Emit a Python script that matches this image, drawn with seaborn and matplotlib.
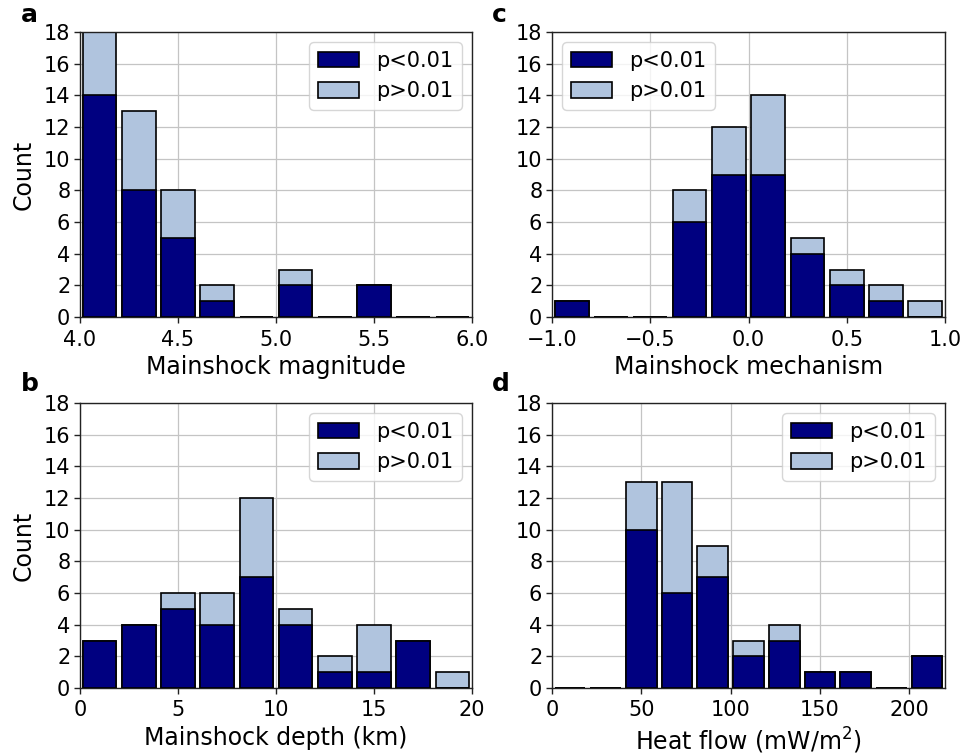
import numpy as np
import pandas as pd
import matplotlib
matplotlib.use("Agg")
import matplotlib.pyplot as plt
import seaborn as sns
from matplotlib.patches import Patch

# ---- data (counts per bin) ----
mag_edges = [4.0, 4.2, 4.4, 4.6, 4.8, 5.0, 5.2, 5.4, 5.6, 5.8, 6.0]
mag_sig = [14, 8, 5, 1, 0, 2, 0, 2, 0, 0]
mag_total = [18, 13, 8, 2, 0, 3, 0, 2, 0, 0]

mech_edges = [-1.0, -0.8, -0.6, -0.4, -0.2, 0.0, 0.2, 0.4, 0.6, 0.8, 1.0]
mech_sig = [1, 0, 0, 6, 9, 9, 4, 2, 1, 0]
mech_total = [1, 0, 0, 8, 12, 14, 5, 3, 2, 1]

depth_edges = [0, 2, 4, 6, 8, 10, 12, 14, 16, 18, 20]
depth_sig = [3, 4, 5, 4, 7, 4, 1, 1, 3, 0]
depth_total = [3, 4, 6, 6, 12, 5, 2, 4, 3, 1]

heat_edges = [0, 20, 40, 60, 80, 100, 120, 140, 160, 180, 200, 220]
heat_sig = [0, 0, 10, 6, 7, 2, 3, 1, 1, 0, 2]
heat_total = [0, 0, 13, 13, 9, 3, 4, 1, 1, 0, 2]

labels = ["p<0.01", "p>0.01"]
xlabels = ["Mainshock magnitude", "Mainshock mechanism",
           "Mainshock depth (km)", "Heat flow (mW/m$^2$)"]
yticks = [0, 2, 4, 6, 8, 10, 12, 14, 16, 18]

sns.set_theme(style="ticks", rc={"axes.grid": True, "grid.color": "#c4c4c4",
                                 "grid.linewidth": 0.9,
                                 "axes.edgecolor": "#222222",
                                 "axes.linewidth": 1.0,
                                 "text.color": "black",
                                 "axes.labelcolor": "black",
                                 "xtick.color": "black",
                                 "ytick.color": "black"})
plt.rcParams['font.family'] = ['DejaVu Sans']

fig = plt.figure(figsize=(9.63, 7.55), dpi=100)
W, H = 963, 755
def add_ax(l, r, t, b):
    return fig.add_axes([l / W, 1 - b / H, (r - l) / W, (b - t) / H])

ax_a = add_ax(80, 472, 32, 317)
ax_c = add_ax(552, 945, 32, 317)
ax_b = add_ax(80, 472, 403, 688)
ax_d = add_ax(552, 945, 403, 688)

panels = [
    (ax_a, mag_edges, mag_sig, mag_total, "upper right", True),
    (ax_c, mech_edges, mech_sig, mech_total, "upper left", False),
    (ax_b, depth_edges, depth_sig, depth_total, "upper right", True),
    (ax_d, heat_edges, heat_sig, heat_total, "upper right", False),
]

navy = "#000080"
light = "#b0c4de"

for i, (ax, edges, sig, tot, loc, left) in enumerate(panels):
    e = [float(v) for v in edges]
    centers = [(e[k] + e[k + 1]) / 2 for k in range(len(e) - 1)]
    df = pd.DataFrame({"x": centers, "tot": [float(v) for v in tot],
                       "sig": [float(v) for v in sig]})
    sns.histplot(data=df, x="x", weights="tot", bins=e, shrink=0.86,
                 color=light, edgecolor="black", linewidth=1.2, alpha=1,
                 ax=ax, zorder=2)
    sns.histplot(data=df, x="x", weights="sig", bins=e, shrink=0.86,
                 color=navy, edgecolor="black", linewidth=1.2, alpha=1,
                 ax=ax, zorder=3)
    ax.set_xlim(e[0], e[-1])
    ax.set_ylim(0, 18)
    ax.set_yticks(yticks)
    ax.set_axisbelow(True)
    ax.tick_params(labelsize=15, length=4, width=1, color="#222222")
    ax.tick_params(axis="x", pad=5)
    ax.tick_params(axis="y", pad=3)
    ax.set_xlabel(xlabels[i], fontsize=17, labelpad=4)
    ax.set_ylabel("Count" if left else "", fontsize=17, labelpad=6)
    handles = [Patch(facecolor=navy, edgecolor="black", linewidth=1.2, label=labels[0]),
               Patch(facecolor=light, edgecolor="black", linewidth=1.2, label=labels[1])]
    ax.legend(handles=handles, loc=loc, fontsize=15, frameon=True,
              handlelength=2.0, handleheight=0.8)
    for s in ax.spines.values():
        s.set_visible(True)

ax_a.set_xticks([4.0, 4.5, 5.0, 5.5, 6.0])
ax_c.set_xticks([-1.0, -0.5, 0.0, 0.5, 1.0])
ax_b.set_xticks([0, 5, 10, 15, 20])
ax_d.set_xticks([0, 50, 100, 150, 200])

fig.text(21 / W, 1 - 15 / H, "a", fontsize=18, fontweight="bold", va="center")
fig.text(492 / W, 1 - 15 / H, "c", fontsize=18, fontweight="bold", va="center")
fig.text(21 / W, 1 - 384 / H, "b", fontsize=18, fontweight="bold", va="center")
fig.text(492 / W, 1 - 384 / H, "d", fontsize=18, fontweight="bold", va="center")

fig.savefig("out.png", dpi=100)
